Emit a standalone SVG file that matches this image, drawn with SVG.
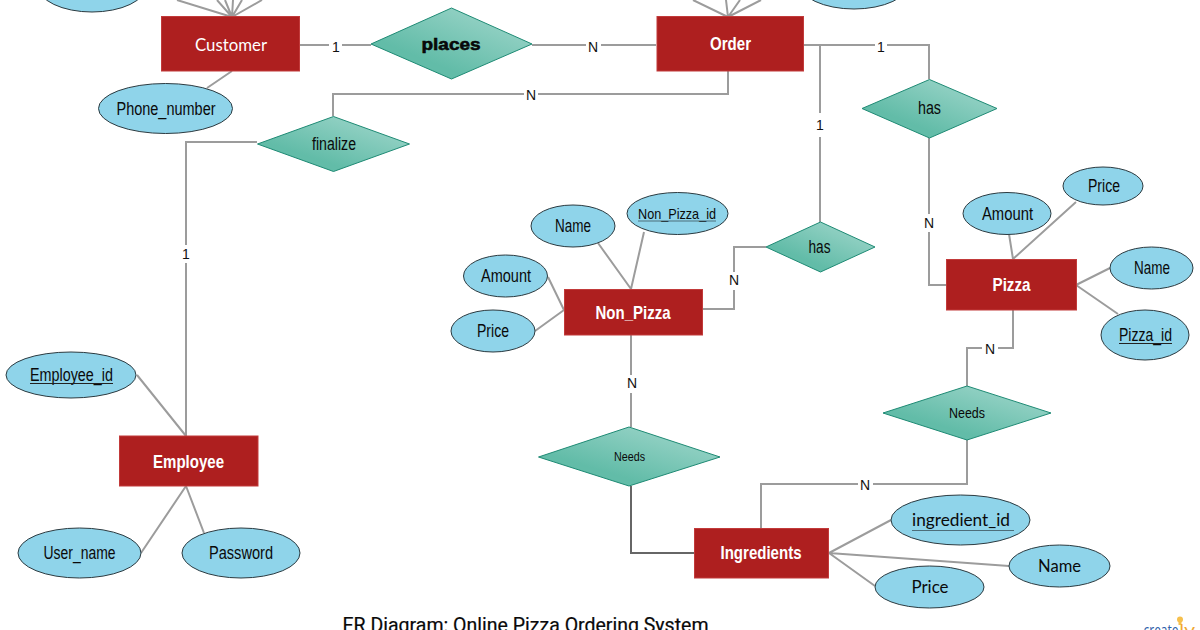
<svg xmlns="http://www.w3.org/2000/svg" width="1200" height="630" viewBox="0 0 1200 630">
<style>
text{font-family:"Liberation Sans",Arial,sans-serif;font-size:17.500px;fill:#0a0a0a}
.e{fill:#8fd4ea;stroke:#2b3a40;stroke-width:1}
.r{fill:#ae1f1f;stroke:#c23a3a;stroke-width:1}
.d{fill:url(#dg);stroke:#1e8a74;stroke-width:1}
.c{fill:none;stroke:#9c9c9c;stroke-width:2}
.k{stroke:#666}
.lb{fill:#fff}
.t{font-size:14px;fill:#111}
.w{fill:#fff;font-weight:bold;font-size:19px}
.l{font-family:Lato,sans-serif;font-size:17px}
.u{stroke:#222;stroke-width:1}
</style>
<defs>
<linearGradient id="dg" x1="0.2" y1="0.8" x2="0.85" y2="0.1"><stop offset="0.15" stop-color="#62bca8"/><stop offset="1" stop-color="#9ad4c8"/></linearGradient>
</defs>
<rect width="1200" height="630" fill="#fff"/>
<g id="connectors">
<path class="c" d="M177 0L232 17M217 0L232 17M225 0L232 17M233 0L232 17M242 0L232 17M262 0L232 17"/>
<path class="c" d="M693 0L728 17M726 0L728 17M740 0L728 17M761 0L728 17"/>
<path class="c" d="M232 71L207 88M300 45H371M532 45H656M728 71V94H333V116M257 142H186V436M803 45H929V79M820 45V222M929 138V285H946"/>
<path class="c" d="M598 243L631 289M644 232L631 289M548 277L564 310M535 331L564 310M631 335V427M703 309H734V247H766"/>
<path class="c" d="M1009 234L1013 259M1076 202L1013 259M1110 268L1076 285M1118 314L1076 285M1013 310V348H967V386"/>
<path class="c" d="M761 528V484H967V440M829 553L891 520M829 553L1009 566M829 553L875 586"/>
<path class="c" d="M137 375L186 436M186 486L141 553M186 486L204 533"/>
<path class="c k" d="M631 486V553H694"/>
<rect class="lb" x="329" y="38" width="13" height="16"/><text class="t" x="332" y="52">1</text>
<rect class="lb" x="586" y="38" width="15" height="16"/><text class="t" x="588" y="52">N</text>
<rect class="lb" x="524" y="87" width="14" height="16"/><text class="t" x="526" y="100">N</text>
<rect class="lb" x="875" y="38" width="12" height="16"/><text class="t" x="877" y="52">1</text>
<rect class="lb" x="815" y="113" width="10" height="24"/><text class="t" x="816" y="130">1</text>
<rect class="lb" x="180" y="245" width="12" height="18"/><text class="t" x="182" y="259">1</text>
<rect class="lb" x="922" y="214" width="14" height="18"/><text class="t" x="924" y="228">N</text>
<rect class="lb" x="727" y="272" width="14" height="18"/><text class="t" x="729" y="285">N</text>
<rect class="lb" x="625" y="375" width="14" height="18"/><text class="t" x="627" y="388">N</text>
<rect class="lb" x="982" y="342" width="16" height="14"/><text class="t" x="985" y="354">N</text>
<rect class="lb" x="858" y="478" width="15" height="14"/><text class="t" x="860" y="490">N</text>
</g>
<g id="attr-customer-a"><ellipse class="e" cx="92" cy="-14" rx="54" ry="26"/></g>
<g id="attr-order-a"><ellipse class="e" cx="854" cy="-17" rx="55" ry="26"/></g>
<g id="customer"><rect class="r" x="161.500" y="16.500" width="138" height="54.500"/><text class="l" style="fill:#fff;font-size:17px" x="195" y="50.500" textLength="72" lengthAdjust="spacingAndGlyphs">Customer</text></g>
<g id="order"><rect class="r" x="657" y="16.500" width="146.500" height="54.500"/><text class="w" x="710" y="50" textLength="41" lengthAdjust="spacingAndGlyphs">Order</text></g>
<g id="places"><polygon class="d" points="371,44 451.500,8 532,44 451.500,79"/><text x="421.500" y="49.500" textLength="59" lengthAdjust="spacingAndGlyphs" style="font-weight:bold;font-size:16px;stroke:#000;stroke-width:.5">places</text></g>
<g id="phone-number"><ellipse class="e" cx="165.500" cy="108.500" rx="67" ry="25"/><text x="116.500" y="114.500" textLength="99" lengthAdjust="spacingAndGlyphs">Phone_number</text></g>
<g id="finalize"><polygon class="d" points="257.500,144 333.500,116.500 409.500,144 333.500,171.500"/><text x="312" y="150" textLength="44" lengthAdjust="spacingAndGlyphs">finalize</text></g>
<g id="has-pizza"><polygon class="d" points="862,108.500 929.500,79.500 997,108.500 929.500,138"/><text x="918" y="114" textLength="23" lengthAdjust="spacingAndGlyphs">has</text></g>
<g id="price-pizza"><ellipse class="e" cx="1103" cy="186" rx="40" ry="19"/><text x="1088" y="192" textLength="32" lengthAdjust="spacingAndGlyphs">Price</text></g>
<g id="amount-pizza"><ellipse class="e" cx="1007" cy="213.500" rx="44" ry="21"/><text x="982" y="219.500" textLength="51" lengthAdjust="spacingAndGlyphs">Amount</text></g>
<g id="pizza"><rect class="r" x="946.500" y="259.500" width="130" height="50.500"/><text class="w" x="992.500" y="290.500" textLength="38" lengthAdjust="spacingAndGlyphs">Pizza</text></g>
<g id="name-pizza"><ellipse class="e" cx="1151.500" cy="268" rx="41.500" ry="21"/><text x="1134" y="274" textLength="36" lengthAdjust="spacingAndGlyphs">Name</text></g>
<g id="pizza-id"><ellipse class="e" cx="1145" cy="335" rx="44" ry="25"/><text x="1119" y="341" textLength="53" lengthAdjust="spacingAndGlyphs">Pizza_id</text><line class="u" x1="1119" y1="343.500" x2="1172" y2="343.500"/></g>
<g id="needs-pizza"><polygon class="d" points="883,413 967,386 1051,413 967,440"/><text style="font-size:15px" x="949" y="418" textLength="36" lengthAdjust="spacingAndGlyphs">Needs</text></g>
<g id="non-pizza-id"><ellipse class="e" cx="677.500" cy="213.500" rx="50.500" ry="21"/><text style="font-size:15px" x="638" y="218.500" textLength="78" lengthAdjust="spacingAndGlyphs">Non_Pizza_id</text><line x1="638" y1="221" x2="716" y2="221" stroke="#4d6e7a"/></g>
<g id="name-nonpizza"><ellipse class="e" cx="573" cy="226" rx="42" ry="21"/><text x="555" y="232" textLength="36" lengthAdjust="spacingAndGlyphs">Name</text></g>
<g id="amount-nonpizza"><ellipse class="e" cx="505.500" cy="276" rx="42" ry="21"/><text x="481" y="282" textLength="50" lengthAdjust="spacingAndGlyphs">Amount</text></g>
<g id="price-nonpizza"><ellipse class="e" cx="493" cy="331" rx="42" ry="21"/><text x="477" y="337" textLength="32" lengthAdjust="spacingAndGlyphs">Price</text></g>
<g id="non-pizza"><rect class="r" x="564.500" y="289.500" width="138" height="45.500"/><text class="w" x="595.500" y="318.500" textLength="75" lengthAdjust="spacingAndGlyphs">Non_Pizza</text></g>
<g id="has-nonpizza"><polygon class="d" points="766,247 820.500,222 875,247 820.500,272"/><text x="808.500" y="253" textLength="22" lengthAdjust="spacingAndGlyphs">has</text></g>
<g id="needs-nonpizza"><polygon class="d" points="538.500,457 629,427 720,457 629,486"/><text style="font-size:13px" x="614" y="461" textLength="31" lengthAdjust="spacingAndGlyphs">Needs</text></g>
<g id="ingredients"><rect class="r" x="694.500" y="528.500" width="134" height="49.500"/><text class="w" x="720.500" y="558.500" textLength="81" lengthAdjust="spacingAndGlyphs">Ingredients</text></g>
<g id="ingredient-id"><ellipse class="e" cx="960.500" cy="520" rx="69.500" ry="25"/><text class="l" x="912" y="525.500" textLength="98" lengthAdjust="spacingAndGlyphs">ingredient_id</text><line x1="912" y1="530.500" x2="1014" y2="530.500" stroke="#4d6e7a"/></g>
<g id="name-ingredient"><ellipse class="e" cx="1059.500" cy="566" rx="50.500" ry="21"/><text class="l" x="1038" y="572" textLength="43" lengthAdjust="spacingAndGlyphs">Name</text></g>
<g id="price-ingredient"><ellipse class="e" cx="929.500" cy="587" rx="54.500" ry="21"/><text class="l" x="911.500" y="593" textLength="37" lengthAdjust="spacingAndGlyphs">Price</text></g>
<g id="employee-id"><ellipse class="e" cx="71" cy="375" rx="65" ry="23"/><text x="30" y="381" textLength="83" lengthAdjust="spacingAndGlyphs">Employee_id</text><line class="u" x1="30" y1="383.500" x2="113" y2="383.500"/></g>
<g id="employee"><rect class="r" x="119.500" y="436" width="138.500" height="50"/><text class="w" x="153" y="467.500" textLength="71" lengthAdjust="spacingAndGlyphs">Employee</text></g>
<g id="user-name"><ellipse class="e" cx="79.500" cy="553" rx="61.500" ry="25"/><text x="43.500" y="559" textLength="72" lengthAdjust="spacingAndGlyphs">User_name</text></g>
<g id="password"><ellipse class="e" cx="241" cy="553" rx="59" ry="25"/><text x="209" y="559" textLength="64" lengthAdjust="spacingAndGlyphs">Password</text></g>
<g id="title"><text style="font-family:Roboto,sans-serif;font-size:19.500px;font-weight:400;stroke:#0a0a0a;stroke-width:.2" x="342.500" y="632" textLength="366" lengthAdjust="spacingAndGlyphs">ER Diagram: Online Pizza Ordering System</text></g>
<g id="logo"><circle cx="1180" cy="619.500" r="3" fill="#f6c04d"/><rect x="1178.500" y="622" width="3" height="3" fill="#f6c04d"/><text style="font-family:'Open Sans',sans-serif;font-size:17px;fill:#2b5ca8" x="1143.500" y="636" textLength="35" lengthAdjust="spacingAndGlyphs">create</text><text style="font-family:'Open Sans',sans-serif;font-size:17px;fill:#f0a830" x="1179" y="636" textLength="16" lengthAdjust="spacingAndGlyphs">ly</text></g>
</svg>
